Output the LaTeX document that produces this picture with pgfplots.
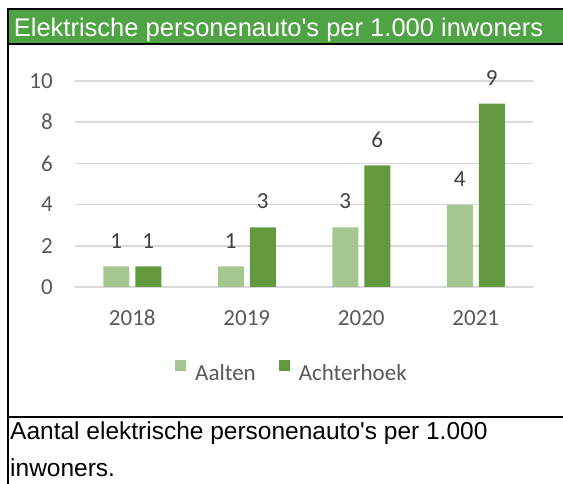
\documentclass[border=0pt]{standalone}
\usepackage{pgfplots}
\pgfplotsset{compat=1.18}
\usepackage{fontspec}
\setmainfont{Liberation Sans}
\newfontfamily\carlito{Carlito}
\definecolor{titlegreen}{HTML}{4FA345}
\definecolor{lightg}{HTML}{A5C690}
\definecolor{darkg}{HTML}{62993E}
\definecolor{gridc}{HTML}{D9D9D9}
\definecolor{tickc}{HTML}{595959}
\definecolor{labc}{HTML}{404040}
\newcommand{\cfont}{\carlito\fontsize{23bp}{28bp}\selectfont}
\begin{document}
\begin{tikzpicture}
\useasboundingbox (0,0) rectangle (563bp,484bp);
\fill[white] (0,0) rectangle (563bp,484bp);
\fill[titlegreen] (9bp,441bp) rectangle (563bp,474bp);
\draw[black, line width=2bp] (7bp,475bp) -- (563bp,475bp);
\draw[black, line width=2bp] (8bp,476bp) -- (8bp,0);
\draw[black, line width=2bp] (8bp,440bp) -- (563bp,440bp);
\draw[black, line width=2bp] (8bp,67bp) -- (563bp,67bp);
\node[anchor=base west, inner sep=0pt, text=white, font=\fontsize{25.5bp}{30bp}\selectfont] at (13.7bp,447.3bp) {Elektrische personenauto\textquotesingle s per 1.000 inwoners};
\node[anchor=base west, inner sep=0pt, font=\fontsize{24.5bp}{28bp}\selectfont] at (10bp,44bp) {Aantal elektrische personenauto\textquotesingle s per 1.000};
\node[anchor=base west, inner sep=0pt, font=\fontsize{24.5bp}{28bp}\selectfont] at (10bp,8bp) {inwoners.};
\begin{axis}[
  at={(75bp,197bp)}, anchor=south west,
  scale only axis, width=458bp, height=206bp,
  ybar=6bp, bar width=26bp,
  xmin=-0.5, xmax=3.5, ymin=0, ymax=10,
  ytick={0,2,4,6,8,10},
  xtick={0,1,2,3}, xticklabels={2018,2019,2020,2021},
  axis line style={draw=none},
  major tick length=0pt,
  ymajorgrids, grid style={gridc, line width=1.5bp},
  clip=false,
  /pgf/number format/assume math mode=true,
  ticklabel style={font=\cfont, text=tickc},
  yticklabel style={anchor=east, inner sep=0pt, xshift=-22bp},
  xticklabel style={anchor=north, inner sep=0pt, yshift=-23bp},
  nodes near coords={\pgfmathprintnumber[fixed,precision=0]{\pgfplotspointmeta}},
  every node near coord/.append style={font=\cfont, text=labc, inner sep=0pt, yshift=18bp},
  legend columns=2,
  legend cell align=left,
  legend style={at={(0.2183,-0.4078)}, anchor=west, draw=none, fill=none, inner sep=0pt,
    font=\cfont, text=tickc, nodes={inner sep=0pt},
    /tikz/every odd column/.append style={column sep=9bp},
    /tikz/every even column/.append style={column sep=23bp}},
  legend image code/.code={\fill[#1,draw=none] (0bp,2bp) rectangle (11bp,13bp);},
]
\addplot[fill=lightg, draw=none] coordinates {(0,1.0) (1,1.0) (2,2.9) (3,4.0)};
\addplot[fill=darkg, draw=none] coordinates {(0,1.0) (1,2.9) (2,5.9) (3,8.9)};
\legend{Aalten,Achterhoek}
\end{axis}
\end{tikzpicture}
\end{document}
